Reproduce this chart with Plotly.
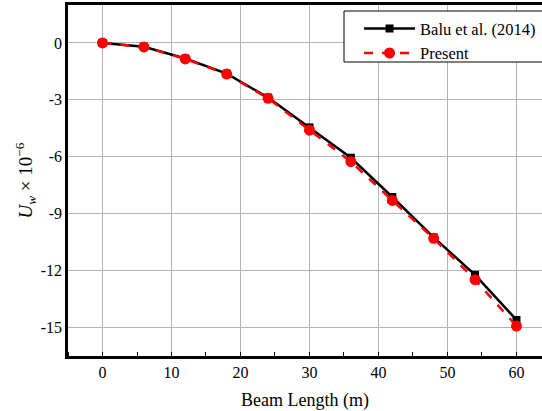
import plotly.graph_objects as go

# Beam deflection along the span
beam_length = [0, 6, 12, 18, 24, 30, 36, 42, 48, 54, 60]
balu_2014 = [0, -0.20, -0.82, -1.62, -2.88, -4.45, -6.05, -8.12, -10.25, -12.22, -14.60]
present = [0, -0.21, -0.84, -1.64, -2.92, -4.60, -6.26, -8.30, -10.30, -12.48, -14.92]

x_ticks = [0, 10, 20, 30, 40, 50, 60]
y_ticks = [0, -3, -6, -9, -12, -15]
y_tick_text = ["0", "-3", "-6", "-9", "-12", "-15"]

serif = "Liberation Serif"

fig = go.Figure()
fig.add_trace(go.Scatter(
    x=beam_length, y=balu_2014, mode="lines+markers", name="Balu et al. (2014)",
    line=dict(color="black", width=2.5),
    marker=dict(symbol="square", size=8, color="black"),
))
fig.add_trace(go.Scatter(
    x=beam_length, y=present, mode="lines+markers", name="Present",
    line=dict(color="#ff0000", width=2.5, dash="dash"),
    marker=dict(symbol="circle", size=11, color="#ff0000"),
))

# Legend frame running off the right edge of the figure
fig.add_shape(
    type="rect", xref="paper", yref="paper",
    x0=0.5823, x1=1.1, y0=0.8376, y1=0.9829,
    line=dict(color="black", width=1), fillcolor="white", layer="above",
)

fig.update_layout(
    width=542, height=411,
    margin=dict(l=68, r=0, t=5, b=55),
    paper_bgcolor="white", plot_bgcolor="white",
    font=dict(family=serif, size=16, color="black"),
    showlegend=True,
    legend=dict(
        x=0.998, y=0.982, xanchor="right", yanchor="top",
        borderwidth=0, bgcolor="rgba(0,0,0,0)",
        font=dict(family=serif, size=16.5, color="black"),
        tracegroupgap=0, itemwidth=51,
    ),
    xaxis=dict(
        range=[-5, 63.7], tickvals=x_ticks,
        showgrid=True, gridcolor="#b4b4b4", gridwidth=1,
        showline=True, linecolor="black", linewidth=2.5, mirror=True,
        ticks="", zeroline=False,
        minor=dict(dtick=5, tick0=0, ticks="inside", ticklen=4, tickcolor="black", showgrid=False),
        title=dict(text="Beam Length (m)", font=dict(family=serif, size=18), standoff=14),
        tickfont=dict(family=serif, size=16),
    ),
    yaxis=dict(
        range=[-16.5, 2], tickvals=y_ticks, ticktext=y_tick_text,
        showgrid=True, gridcolor="#b4b4b4", gridwidth=1,
        showline=True, linecolor="black", linewidth=2.5, mirror=False,
        ticks="", zeroline=False,
        title=dict(text="<i>U</i><sub><i>w</i></sub> × 10<sup>−6</sup>",
                   font=dict(family=serif, size=19), standoff=4),
        tickfont=dict(family=serif, size=16),
    ),
)

fig.write_html("out.html")
